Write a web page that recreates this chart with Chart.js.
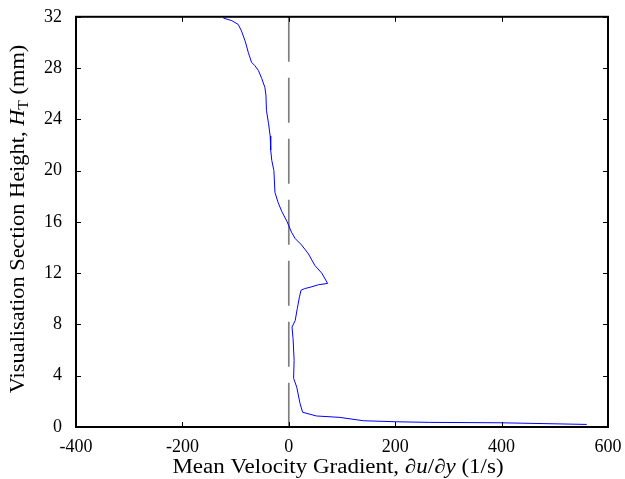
<!DOCTYPE html>
<html>
<head>
<meta charset="utf-8">
<script src="https://cdn.jsdelivr.net/npm/chart.js@4/dist/chart.umd.min.js"></script>
<style>
  html, body { margin: 0; padding: 0; background: #fff; }
  #wrap { width: 625px; height: 479px; }
</style>
</head>
<body>
<div id="wrap"><canvas id="chart"></canvas></div>
<script>
// velocity gradient (1/s) vs height (mm)
const gradient = [-123, -107, -95, -89, -82, -76, -70, -64, -57, -51, -45, -43, -42, -38, -35, -34, -32, -28, -26, -20,
  -13, -3, 5, 12, 24, 37, 49, 62, 73, 56, 40, 30, 23, 20, 16, 12, 6, 8, 10, 9, 15, 21, 26, 52, 96, 140, 200, 265, 397, 560];
const height = [31.9, 31.7, 31.4, 30.9, 30.1, 29.2, 28.45, 28.2, 27.8, 27.2, 26.5, 25.9, 24.7, 23.65, 22.7, 21.6, 20.8, 20.0, 18.3, 17.5,
  16.8, 16.0, 15.2, 14.7, 14.2, 13.5, 12.6, 12.0, 11.2, 11.1, 10.9, 10.8, 10.67, 10.15, 9.25, 8.3, 7.8, 6.9, 5.2, 3.8, 3.1, 1.85, 1.15, 0.86, 0.75, 0.49, 0.41, 0.36, 0.33, 0.2];
const xTicks = [-400, -200, 0, 200, 400, 600];
const yTicks = [0, 4, 8, 12, 16, 20, 24, 28, 32];

const serif = "'Liberation Serif', 'Times New Roman', serif";

// box around the plot plus inward ticks on all four sides (matlab look)
const boxPlugin = {
  id: 'box',
  afterDraw(chart) {
    const { ctx, chartArea: a, scales: { x, y } } = chart;
    ctx.save();
    ctx.strokeStyle = '#000';
    ctx.lineWidth = 1;
    const len = 5;
    ctx.beginPath();
    xTicks.forEach(v => {
      const px = Math.round(x.getPixelForValue(v)) + 0.5;
      ctx.moveTo(px, a.bottom); ctx.lineTo(px, a.bottom - len);
      ctx.moveTo(px, a.top); ctx.lineTo(px, a.top + len);
    });
    yTicks.forEach(v => {
      const py = Math.round(y.getPixelForValue(v)) + 0.5;
      ctx.moveTo(a.left, py); ctx.lineTo(a.left + len, py);
      ctx.moveTo(a.right, py); ctx.lineTo(a.right - len, py);
    });
    ctx.stroke();
    ctx.lineWidth = 2;
    ctx.strokeRect(a.left, a.top, a.right - a.left, a.bottom - a.top);

    // axis titles with italic pieces, slightly stretched like the original
    const drawParts = (parts, size) => {
      let w = 0;
      parts.forEach(p => {
        ctx.font = (p.it ? 'italic ' : '') + (p.sub ? size * 0.7 : size) + 'px ' + serif;
        p.w = ctx.measureText(p.t).width;
        w += p.w;
      });
      let cx = -w / 2;
      parts.forEach(p => {
        ctx.font = (p.it ? 'italic ' : '') + (p.sub ? size * 0.7 : size) + 'px ' + serif;
        ctx.fillText(p.t, cx, p.sub ? 5 : 0);
        cx += p.w;
      });
    };
    ctx.fillStyle = '#000';
    ctx.textBaseline = 'middle';
    ctx.textAlign = 'left';
    ctx.save();
    ctx.translate(338, 468);
    ctx.scale(1.15, 1);
    drawParts([
      { t: 'Mean Velocity Gradient, \u2202' }, { t: 'u', it: true }, { t: '/\u2202' }, { t: 'y', it: true }, { t: ' (1/s)' }
    ], 20);
    ctx.restore();
    ctx.save();
    ctx.translate(19, 219);
    ctx.rotate(-Math.PI / 2);
    ctx.scale(1.12, 1);
    drawParts([
      { t: 'Visualisation Section Height, ' }, { t: 'H', it: true }, { t: 'T', sub: true }, { t: ' (mm)' }
    ], 20);
    ctx.restore();
    ctx.restore();
  }
};

new Chart(document.getElementById('chart'), {
  type: 'scatter',
  data: {
    datasets: [{
      data: gradient.map((g, i) => ({ x: g, y: height[i] })),
      showLine: true,
      borderColor: '#0000ff',
      borderWidth: 1,
      pointRadius: 0,
      tension: 0
    }, {
      // zero reference line
      data: [{ x: 0, y: 32 }, { x: 0, y: 0 }],
      showLine: true,
      borderColor: '#7f7f7f',
      borderWidth: 1.7,
      borderDash: [45, 16],
      pointRadius: 0
    }]
  },
  options: {
    responsive: true,
    maintainAspectRatio: false,
    animation: false,
    layout: { padding: { top: 16, right: 17, left: 0, bottom: 0 } },
    plugins: { legend: { display: false }, tooltip: { enabled: false } },
    scales: {
      x: {
        type: 'linear', min: -400, max: 600,
        afterBuildTicks: s => { s.ticks = xTicks.map(v => ({ value: v })); },
        afterFit: s => { s.height = 52; },
        grid: { display: false },
        border: { display: false },
        ticks: { color: '#000', padding: 1, font: { family: serif, size: 18 } }
      },
      y: {
        type: 'linear', min: 0, max: 32,
        afterBuildTicks: s => { s.ticks = yTicks.map(v => ({ value: v })); },
        afterFit: s => { s.width = 76; },
        grid: { display: false },
        border: { display: false },
        ticks: { color: '#000', padding: 6, font: { family: serif, size: 18 } }
      }
    }
  },
  plugins: [boxPlugin]
});
</script>
</body>
</html>
